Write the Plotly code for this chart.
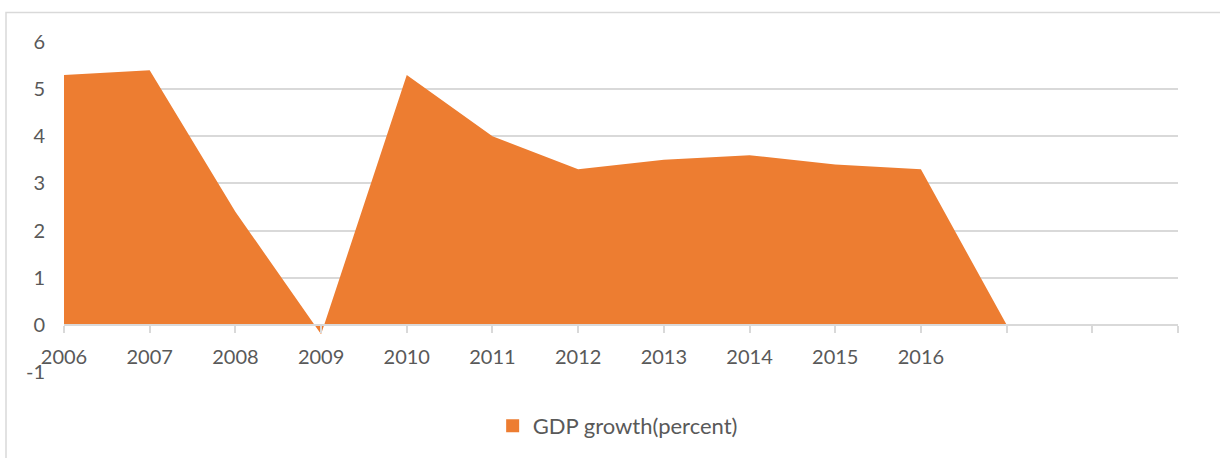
import plotly.graph_objects as go

categories = ["2006", "2007", "2008", "2009", "2010", "2011", "2012", "2013",
              "2014", "2015", "2016", "", "", ""]
gdp_growth = [5.3, 5.4, 2.4, -0.2, 5.3, 4.0, 3.3, 3.5, 3.6, 3.4, 3.3, 0.0]
y_ticks = [-1, 0, 1, 2, 3, 4, 5, 6]
y_tick_labels = ["-1", "0", "1", "2", "3", "4", "5", "6"]

ORANGE = "#ED7D31"
GRID = "#D9D9D9"
TEXT = "#595959"
FONT = "Lato"

idx = list(range(len(gdp_growth)))

fig = go.Figure()
fig.add_trace(go.Scatter(
    x=idx, y=gdp_growth, mode="lines", fill="tozeroy",
    fillcolor=ORANGE, line=dict(width=0, color=ORANGE),
    showlegend=False, hoverinfo="x+y"))
fig.add_trace(go.Scatter(
    x=[None], y=[None], mode="markers", name="GDP growth(percent)",
    marker=dict(symbol="square", size=13, color=ORANGE)))

fig.update_layout(
    width=1220, height=458,
    margin=dict(l=64, r=42, t=42, b=85),
    paper_bgcolor="white", plot_bgcolor="white",
    font=dict(family=FONT, size=20, color=TEXT),
    showlegend=True,
    legend=dict(orientation="h", x=0.497, xanchor="center", y=-0.16,
                yanchor="middle", font=dict(size=22, color=TEXT),
                itemwidth=30),
    xaxis=dict(
        range=[0, len(categories) - 1],
        tickvals=list(range(len(categories))), ticktext=categories,
        showgrid=False, zeroline=False,
        showline=True, linecolor=GRID, linewidth=1.5,
        ticks="outside", ticklen=7, tickcolor=GRID, tickwidth=1.5,
        anchor="free", position=1 / 7,
        ticklabelstandoff=7,
        tickfont=dict(size=20, color=TEXT)),
    yaxis=dict(
        range=[-1, 6], tickvals=y_ticks, ticktext=y_tick_labels,
        showgrid=True, gridcolor=GRID, gridwidth=1.5,
        zeroline=False, showline=False, ticks="",
        ticklabelstandoff=18,
        tickfont=dict(size=20, color=TEXT)),
    shapes=[dict(type="rect", xref="paper", yref="paper",
                 x0=(6 - 64) / 1114, x1=1.2,
                 y0=-0.5, y1=(373 - 12.5) / 331,
                 line=dict(color=GRID, width=1.5), fillcolor="rgba(0,0,0,0)",
                 layer="below")],
)

fig.write_html(
    "out.html",
    config={"displayModeBar": False},
    post_script="document.body.style.margin='0';document.body.style.overflow='hidden';")
